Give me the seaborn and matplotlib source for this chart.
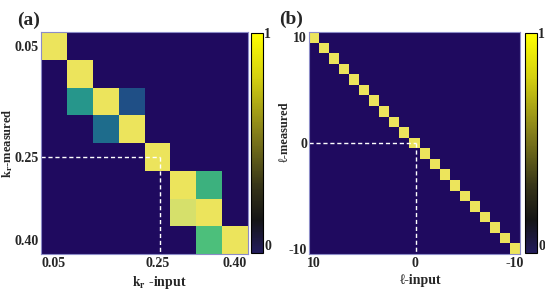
import numpy as np
import pandas as pd
import seaborn as sns
import matplotlib
matplotlib.use("Agg")
import matplotlib.pyplot as plt
from matplotlib.colors import LinearSegmentedColormap, Normalize
from matplotlib.cm import ScalarMappable

# ---------------- data ----------------
kr_values = [0.05, 0.10, 0.15, 0.20, 0.25, 0.30, 0.35, 0.40]
kr_tick_labels = ["0.05", "0.25", "0.40"]
# rows = k_r measured, cols = k_r input
kr_matrix = [
    [1.00, 0.00, 0.00, 0.00, 0.00, 0.00, 0.00, 0.00],
    [0.00, 1.00, 0.00, 0.00, 0.00, 0.00, 0.00, 0.00],
    [0.00, 0.50, 1.00, 0.30, 0.00, 0.00, 0.00, 0.00],
    [0.00, 0.00, 0.40, 1.00, 0.00, 0.00, 0.00, 0.00],
    [0.00, 0.00, 0.00, 0.00, 1.00, 0.00, 0.00, 0.00],
    [0.00, 0.00, 0.00, 0.00, 0.00, 1.00, 0.65, 0.00],
    [0.00, 0.00, 0.00, 0.00, 0.00, 0.90, 1.00, 0.00],
    [0.00, 0.00, 0.00, 0.00, 0.00, 0.00, 0.70, 1.00],
]
ell_values = list(range(10, -11, -1))
ell_tick_labels = ["10", "0", "-10"]
ell_matrix = np.eye(len(ell_values))

# ---------------- style ----------------
sns.set_style("white")
plt.rcParams["font.family"] = ["Liberation Serif", "DejaVu Serif"]
plt.rcParams["font.weight"] = "bold"
plt.rcParams["mathtext.fontset"] = "stix"
plt.rcParams["mathtext.default"] = "bf"

cell_cmap = LinearSegmentedColormap.from_list(
    "cells",
    [(0.0, "#1f0a5f"), (0.3, "#1f4f86"), (0.4, "#1e6c8c"), (0.5, "#26968b"),
     (0.65, "#3cb17e"), (0.7, "#4bbf7b"), (0.9, "#d6e06b"), (1.0, "#ece45c")])
cbar_cmap = LinearSegmentedColormap.from_list(
    "cbar",
    [(0.0, "#221c5c"), (0.08, "#1b1836"), (0.15, "#151515"), (0.3, "#353318"),
     (0.55, "#86801a"), (0.8, "#d4d010"), (1.0, "#ffff00")])

fig = plt.figure(figsize=(5.45, 3.02), dpi=100)
W, H = 545, 302

def fax(x0, y0, x1, y1):
    return fig.add_axes([x0 / W, 1 - y1 / H, (x1 - x0) / W, (y1 - y0) / H])

ax_a = fax(41, 32, 248, 254)
cax_a = fax(251, 33, 263, 253)
ax_b = fax(309, 32, 520, 254)
cax_b = fax(525, 33, 537, 253)

tick_kw = dict(fontsize=10, fontweight="bold")


def draw_panel(ax, cax, matrix, values, tick_labels, ylabel, xlabel,
               cross_value, ylab_xy, xlab_xy, fmt):
    df = pd.DataFrame(matrix, index=values, columns=values)
    sns.heatmap(df, ax=ax, cmap=cell_cmap, vmin=0, vmax=1, cbar=False,
                xticklabels=False, yticklabels=False)
    labels = [fmt(v) for v in values]
    pos = [labels.index(t) + 0.5 for t in tick_labels]
    ax.set_xticks(pos)
    ax.set_xticklabels(tick_labels, **tick_kw)
    ax.set_yticks(pos)
    ax.set_yticklabels(tick_labels, rotation=0, **tick_kw)
    ax.tick_params(axis="x", length=0, pad=2.5)
    ax.tick_params(axis="y", length=0, pad=1.5)
    for s in ax.spines.values():
        s.set_visible(True)
        s.set_color("#8c8cc8")
        s.set_linewidth(0.8)
    ax.set_ylabel(ylabel, fontsize=9, fontweight="bold")
    ax.set_xlabel(xlabel, fontsize=10, fontweight="bold")
    ax.yaxis.set_label_coords(*ylab_xy)
    ax.xaxis.set_label_coords(*xlab_xy)
    # dashed guide lines through the cross value
    i = labels.index(cross_value) + 0.5
    n = len(values)
    ax.plot([0, i + 0.1], [i, i], color="white", ls=(0, (3, 2)), lw=1.0,
            clip_on=False)
    ax.plot([i + 0.1, i + 0.1], [i, n + 0.15], color="white", ls=(0, (3, 2)),
            lw=1.0, clip_on=False)
    # colorbar
    sm = ScalarMappable(norm=Normalize(0, 1), cmap=cbar_cmap)
    cb = fig.colorbar(sm, cax=cax)
    cb.set_ticks([0, 1])
    cb.set_ticklabels(["0", "1"])
    cb.outline.set_edgecolor("black")
    cb.outline.set_linewidth(0.8)
    cax.tick_params(length=0, pad=1)
    for t in cax.get_yticklabels():
        t.set_fontsize(10)
        t.set_fontweight("bold")
    cax.get_yticklabels()[0].set_va("bottom")


draw_panel(ax_a, cax_a, kr_matrix, kr_values, kr_tick_labels,
           r"$\mathbf{k_r}$-measured", r"$\mathbf{k_r}$ -input", "0.25",
           (-0.125, 0.5), (0.57, -0.09), lambda v: f"{v:.2f}")
draw_panel(ax_b, cax_b, ell_matrix, ell_values, ell_tick_labels,
           "\u2113-measured", "\u2113-input", "0",
           (-0.085, 0.55), (0.53, -0.09), lambda v: f"{v}")

fig.text(29 / W, 1 - 20 / H, "(a)", fontsize=14, fontweight="bold",
         ha="center", va="center")
fig.text(291 / W, 1 - 19 / H, "(b)", fontsize=14, fontweight="bold",
         ha="center", va="center")

fig.savefig("out.png", dpi=100)
